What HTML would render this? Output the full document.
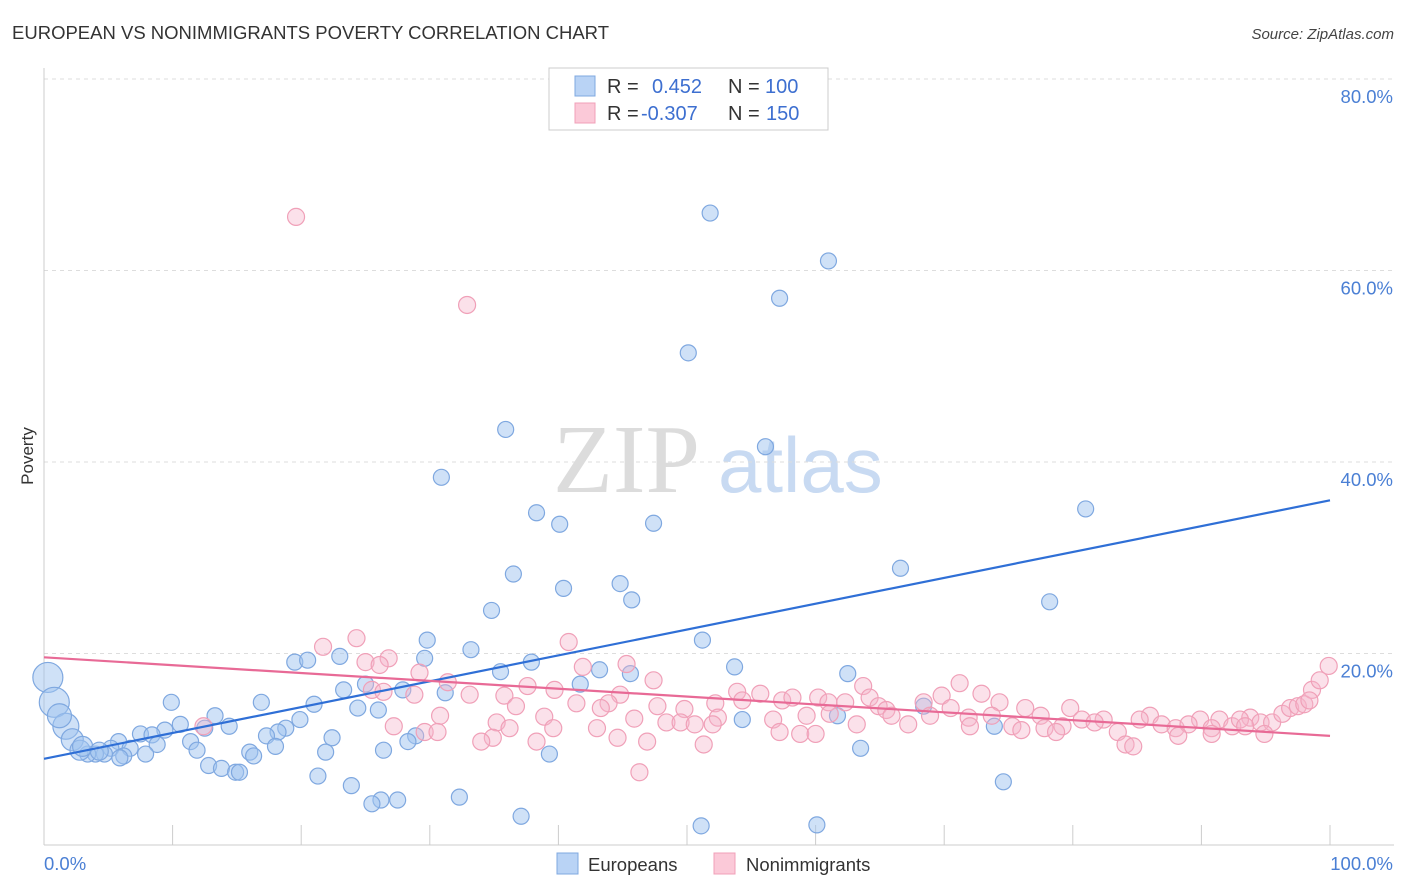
<!DOCTYPE html>
<html><head><meta charset="utf-8"><style>
body{margin:0;background:#fff;font-family:"Liberation Sans",sans-serif;}
#wrap{position:relative;width:1406px;height:892px;overflow:hidden;}
</style></head><body>
<div id="wrap">
<svg id="chart" width="1406" height="892" xmlns="http://www.w3.org/2000/svg">
<text x="12" y="39" font-size="18.5" fill="#333" textLength="597">EUROPEAN VS NONIMMIGRANTS POVERTY CORRELATION CHART</text>
<text x="1394" y="39" font-size="15" fill="#444" font-style="italic" text-anchor="end">Source: ZipAtlas.com</text>
<text x="0" y="0" transform="translate(33,456) rotate(-90)" font-size="17" fill="#333" text-anchor="middle">Poverty</text>
<g>
<text x="553" y="492" font-family="Liberation Serif,serif" font-size="98" fill="#dcdcdc">ZIP</text>
<text x="718" y="492" font-size="78" fill="#c8daf2">atlas</text>
</g>
<g id="grid"></g><g id="axes"></g><g id="pts"></g><g id="lines"></g>
<g>
<rect x="549" y="68" width="279" height="62" fill="#fff" stroke="#ccc"/>
<rect x="575" y="76" width="20" height="20" fill="#b9d3f5" stroke="#7fa8e0"/>
<rect x="575" y="103" width="20" height="20" fill="#fbc9d8" stroke="#f0a0b8"/>
<text x="607" y="93" font-size="20" fill="#333">R = <tspan x="652" fill="#3d6fd0">0.452</tspan><tspan x="728" fill="#333">N = </tspan><tspan x="765" fill="#3d6fd0">100</tspan></text>
<text x="607" y="120" font-size="20" fill="#333">R = <tspan x="641" fill="#3d6fd0">-0.307</tspan><tspan x="728" fill="#333">N = </tspan><tspan x="766" fill="#3d6fd0">150</tspan></text>
</g>
<g>
<rect x="557" y="853" width="21" height="21" fill="#b9d3f5" stroke="#7fa8e0"/>
<text x="588" y="871" font-size="18.5" fill="#333">Europeans</text>
<rect x="714" y="853" width="21" height="21" fill="#fbc9d8" stroke="#f0a0b8"/>
<text x="746" y="871" font-size="18.5" fill="#333">Nonimmigrants</text>
</g>
</svg>
</div>
<script>
const yTicks=[20,40,60,80];
const xTickLabels=["0.0%","100.0%"];
const blueX=[51.8,61.0,57.2,50.1,35.9,56.1,30.9,81.0,38.3,40.1,47.4,66.6,36.5,40.4,44.8,45.7,78.2,34.8,51.2,29.8,33.2,29.6,19.5,20.5,23.0,37.9,43.2,53.7,35.5,45.6,62.5,25.0,23.3,27.9,41.7,31.2,9.9,16.9,21.0,24.4,26.0,13.3,61.7,68.4,54.3,19.9,10.6,12.5,14.4,9.4,18.8,18.2,17.3,7.5,8.4,5.8,22.4,28.9,28.3,11.4,8.8,6.7,5.2,11.9,18.0,21.9,26.4,16.0,7.9,6.2,16.3,39.3,63.5,73.9,4.7,4.0,3.4,5.9,12.8,13.8,14.9,15.2,21.3,23.9,26.2,27.5,25.5,32.3,74.6,37.1,51.1,60.1,0.3,0.8,1.7,2.2,2.8,1.2,3.0,4.3];
const blueY=[66.0,61.0,57.1,51.4,43.4,41.6,38.4,35.1,34.7,33.5,33.6,28.9,28.3,26.8,27.3,25.6,25.4,24.5,21.4,21.4,20.4,19.5,19.1,19.3,19.7,19.1,18.3,18.6,18.1,17.9,17.9,16.8,16.2,16.2,16.8,15.9,14.9,14.9,14.7,14.3,14.1,13.5,13.5,14.5,13.1,13.1,12.6,12.2,12.4,12.0,12.2,11.8,11.4,11.6,11.5,10.8,11.2,11.4,10.8,10.8,10.5,10.1,10.1,9.9,10.3,9.7,9.9,9.7,9.5,9.3,9.3,9.5,10.1,12.4,9.5,9.5,9.5,9.1,8.3,8.0,7.6,7.6,7.2,6.2,4.7,4.7,4.3,5.0,6.6,3.0,2.0,2.1,17.5,14.9,12.4,11.0,9.9,13.5,10.3,9.8];
const blueSize=[8,8,8,8,8,8,8,8,8,8,8,8,8,8,8,8,8,8,8,8,8,8,8,8,8,8,8,8,8,8,8,8,8,8,8,8,8,8,8,8,8,8,8,8,8,8,8,8,8,8,8,8,8,8,8,8,8,8,8,8,8,8,8,8,8,8,8,8,8,8,8,8,8,8,8,8,8,8,8,8,8,8,8,8,8,8,8,8,8,8,8,8,15,15,13,11,10,12,10,9];
const pinkX=[19.6,32.9,21.7,24.3,40.8,26.8,25.0,26.1,45.3,29.2,41.9,31.4,47.4,63.7,71.2,37.6,39.7,25.5,26.4,28.8,33.1,35.8,44.8,53.9,55.7,54.3,57.4,58.2,60.2,61.0,52.2,62.3,64.2,69.8,72.9,74.3,41.4,43.9,36.7,43.3,47.7,49.8,64.9,65.5,68.4,70.5,79.8,76.3,86.0,30.8,38.9,45.9,52.4,59.3,61.1,65.9,68.9,71.9,73.7,77.5,80.7,82.4,85.2,89.9,91.4,93.8,94.6,35.2,48.4,49.5,50.6,52.0,56.7,63.2,67.2,72.0,75.3,77.8,79.2,81.7,86.9,88.0,89.0,90.8,92.4,95.5,12.4,27.2,36.2,39.6,43.0,57.2,58.8,60.0,76.0,78.7,83.5,88.2,94.9,29.6,30.6,34.9,44.6,34.0,38.3,46.9,51.3,84.1,84.7,90.8,46.3,96.3,96.9,97.5,98.0,98.6,99.2,99.9,98.4,93.0,93.4];
const pinkY=[65.6,56.4,20.7,21.6,21.2,19.5,19.1,18.8,18.9,18.0,18.6,17.0,17.2,16.6,16.9,16.6,16.2,16.2,16.0,15.7,15.7,15.6,15.7,16.0,15.8,15.1,15.1,15.4,15.4,14.9,14.8,14.9,15.4,15.6,15.8,14.9,14.8,14.8,14.5,14.3,14.5,14.2,14.5,14.1,14.9,14.3,14.3,14.3,13.5,13.5,13.4,13.2,13.3,13.5,13.7,13.5,13.5,13.3,13.5,13.5,13.1,13.1,13.1,13.1,13.1,13.3,12.8,12.8,12.8,12.8,12.6,12.6,13.1,12.6,12.6,12.4,12.4,12.2,12.4,12.8,12.6,12.2,12.6,12.2,12.4,12.8,12.4,12.4,12.2,12.2,12.2,11.8,11.6,11.6,12.0,11.8,11.8,11.4,11.6,11.8,11.8,11.2,11.2,10.8,10.8,10.8,10.5,10.5,10.3,11.6,7.6,13.7,14.3,14.5,14.7,16.2,17.2,18.7,15.1,13.1,12.4];
const blueLine=[9.0,36.0];
const pinkLine=[19.6,11.4];
const NS="http://www.w3.org/2000/svg";
const X0=44,X1=1330,Y0=845,PX=9.575;
function sx(v){return X0+(X1-X0)*v/100;}
function sy(v){return Y0-v*PX;}
function mk(t,a,p){const e=document.createElementNS(NS,t);for(const k in a)e.setAttribute(k,a[k]);p.appendChild(e);return e;}
const grid=document.getElementById('grid'),axes=document.getElementById('axes'),pts=document.getElementById('pts'),lines=document.getElementById('lines');
yTicks.forEach(v=>{
 const l=mk('line',{x1:X0,x2:1394,y1:sy(v),y2:sy(v),stroke:'#ddd','stroke-dasharray':'4,4'},grid);
 
 
 const t=mk('text',{x:1393,y:sy(v)+24,'font-size':18.5,fill:'#4a7fd4','text-anchor':'end'},axes);
 t.textContent=v.toFixed(1)+'%';
 
 
});
const ax=mk('line',{x1:X0,x2:X0,y1:68,y2:Y0,stroke:'#ccc'},axes);


const bx=mk('line',{x1:X0,x2:1394,y1:Y0,y2:Y0,stroke:'#ccc'},axes);


for(let i=1;i<=10;i++){
 const tk=mk('line',{x1:sx(i*10),x2:sx(i*10),y1:Y0,y2:Y0-20,stroke:'#ccc'},axes);
 
 
}
const xl0=mk('text',{x:44,y:870,'font-size':18.5,fill:'#4a7fd4'},axes);xl0.textContent=xTickLabels[0];


const xl1=mk('text',{x:1393,y:870,'font-size':18.5,fill:'#4a7fd4','text-anchor':'end'},axes);xl1.textContent=xTickLabels[1];


blueX.forEach((x,i)=>{
 const c=mk('circle',{cx:sx(x),cy:sy(blueY[i]),r:blueSize[i],fill:'rgba(160,196,240,0.5)',stroke:'#7fa8e0','stroke-width':1.2},pts);
 
 
});
pinkX.forEach((x,i)=>{
 const c=mk('circle',{cx:sx(x),cy:sy(pinkY[i]),r:8.5,fill:'rgba(246,180,202,0.4)',stroke:'#f0a0b8','stroke-width':1.2},pts);
 
 
});
const bl=mk('line',{x1:sx(0),y1:sy(blueLine[0]),x2:sx(100),y2:sy(blueLine[1]),stroke:'#2f6fd6','stroke-width':2.2},lines);


const pl=mk('line',{x1:sx(0),y1:sy(pinkLine[0]),x2:sx(100),y2:sy(pinkLine[1]),stroke:'#e86a96','stroke-width':2.2},lines);


</script>
</body></html>
